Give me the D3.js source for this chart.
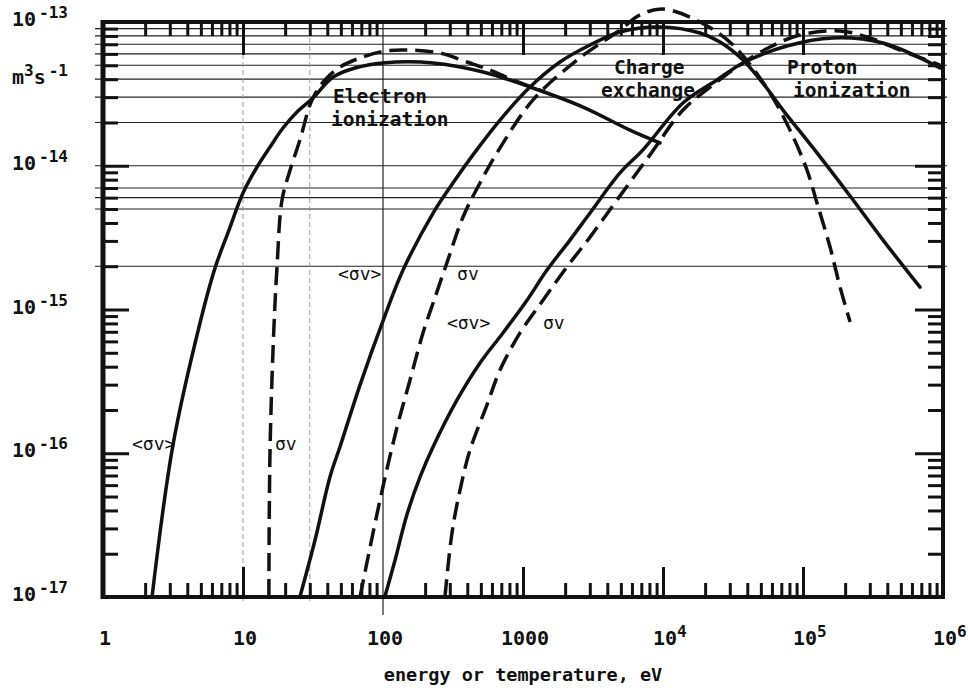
<!DOCTYPE html>
<html>
<head>
<meta charset="utf-8">
<script src="https://cdn.jsdelivr.net/npm/d3@7"></script>
<style>
  body { margin: 0; background: #fff; }
  text { font-family: "DejaVu Sans Mono", monospace; fill: #111; }
  .lbl { font-weight: bold; }
  .curve { fill: none; stroke: #111; stroke-width: 3.5; stroke-linecap: round; stroke-linejoin: round; }
  .curve.dashed { stroke-dasharray: 18 8; stroke-linecap: butt; }
  .grid { stroke: #222; stroke-width: 1.2; }
  .grid.faint { stroke: #999; stroke-width: 1; stroke-dasharray: 5 3; }
  .axis path { display: none; }
  .axis line { stroke: #111; stroke-width: 3; }
  .frame { fill: none; stroke: #111; stroke-width: 4; }
</style>
</head>
<body>
<svg id="chart" width="968" height="688"></svg>
<script>
// energy (eV) and rate (m^3/s)
const eIonAvgE = [2.24, 3.16, 4.93, 6.31, 7.94, 10, 12.6, 15.6, 19.3, 24.7, 31.6, 44, 63.1, 100, 228, 518, 1122, 2683, 5808, 9520];
const eIonAvgV = [1e-17, 1.14e-16, 8.05e-16, 1.94e-15, 3.57e-15, 6.46e-15, 9.8e-15, 1.35e-14, 1.83e-14, 2.4e-14, 2.96e-14, 4.14e-14, 4.79e-14, 5.19e-14, 5.19e-14, 4.49e-14, 3.53e-14, 2.56e-14, 1.77e-14, 1.44e-14];

const eIonSigE = [15.3, 15.6, 16.6, 17.5, 19.0, 21.7, 25.5, 31.1, 38.5, 49.3, 68.5, 103, 156, 255, 398, 581, 849, 1436];
const eIonSigV = [1e-17, 1.05e-16, 7.2e-16, 1.98e-15, 5.78e-15, 9.33e-15, 1.51e-14, 2.87e-14, 3.95e-14, 4.86e-14, 5.62e-14, 6.28e-14, 6.38e-14, 6.08e-14, 5.27e-14, 4.64e-14, 3.95e-14, 3.26e-14];

const cxAvgE = [25.5, 32.7, 41.8, 49.3, 68.5, 100, 139, 228, 316, 439, 685, 1122, 1838, 3010, 4930, 9520, 18380, 25530, 37270, 53520, 71940, 1.259e5, 2.17e5, 3.73e5, 6.85e5];
const cxAvgV = [1e-17, 2.49e-17, 6.84e-17, 1.11e-16, 2.98e-16, 8.32e-16, 1.88e-15, 4.69e-15, 7.59e-15, 1.19e-14, 2.08e-14, 3.53e-14, 5.27e-14, 6.92e-14, 8.52e-14, 9.23e-14, 8.39e-14, 7.26e-14, 5.44e-14, 3.59e-14, 2.44e-14, 1.23e-14, 6.16e-15, 3.04e-15, 1.43e-15];

const cxSigE = [68.5, 95.2, 126, 156, 193, 228, 286, 373, 493, 685, 1179, 2430, 4930, 6850, 10000, 18380, 31620, 56230, 80700, 1.068e5, 1.259e5, 1.56e5, 1.84e5, 2.17e5];
const cxSigV = [1e-17, 4.73e-17, 1.52e-16, 3.23e-16, 6.87e-16, 1.11e-15, 2.11e-15, 4.4e-15, 7.59e-15, 1.33e-14, 2.87e-14, 5.44e-14, 8.79e-14, 1.12e-13, 1.23e-13, 1.0e-13, 6.92e-14, 3.37e-14, 1.77e-14, 9.33e-15, 5.51e-15, 2.72e-15, 1.43e-15, 8.19e-16];

const pIonAvgE = [103, 122, 148, 184, 228, 338, 493, 719, 1068, 1483, 2166, 3010, 4930, 7190, 13890, 24300, 37270, 76850, 1.64e5, 3.73e5, 9.52e5];
const pIonAvgV = [1e-17, 1.81e-17, 3.72e-17, 6.84e-17, 1.11e-16, 2.35e-16, 4.25e-16, 6.87e-16, 1.16e-15, 1.88e-15, 3.04e-15, 4.69e-15, 8.91e-15, 1.29e-14, 2.73e-14, 3.95e-14, 5.19e-14, 6.81e-14, 7.74e-14, 7.14e-14, 4.79e-14];

const pIonSigE = [277, 311, 355, 418, 553, 685, 952, 1389, 2062, 3010, 4693, 8070, 13890, 22750, 35480, 58080, 95200, 1.84e5, 3.01e5, 4.93e5, 9.52e5];
const pIonSigV = [1e-17, 2.79e-17, 5.55e-17, 1.05e-16, 2.17e-16, 3.79e-16, 6.87e-16, 1.16e-15, 1.98e-15, 3.19e-15, 5.78e-15, 1.19e-14, 2.44e-14, 3.65e-14, 5.02e-14, 6.7e-14, 8.12e-14, 8.66e-14, 7.74e-14, 6.38e-14, 5.02e-14];

const xDecades = [1, 10, 100, 1000, 1e4, 1e5, 1e6];
const xTickLabels = [["1", ""], ["10", ""], ["100", ""], ["1000", ""], ["10", "4"], ["10", "5"], ["10", "6"]];
const yDecades = [1e-17, 1e-16, 1e-15, 1e-14, 1e-13];
const yTickLabels = [["10", "-17"], ["10", "-16"], ["10", "-15"], ["10", "-14"], ["10", "-13"]];

// ruled lines of the graph paper
const gridRates = [2e-15, 5e-15, 6e-15, 7e-15, 1e-14, 2e-14, 3e-14, 4e-14, 5e-14, 6e-14, 7e-14, 8e-14, 9e-14];
const gridEnergiesFaint = [10, 30];
const gridEnergySolid = 100;

const svg = d3.select("#chart"),
  plotL = 103, plotR = 943, plotT = 22, plotB = 597;

const x = d3.scaleLog().domain([1, 1e6]).range([plotL, plotR]);
const y = d3.scaleLog().domain([1e-17, 1e-13]).range([plotB, plotT]);

const isDecade = v => Math.abs(Math.log10(v) - Math.round(Math.log10(v))) < 1e-6;
const xMinor = x.ticks().filter(v => !isDecade(v));
const yMinor = y.ticks().filter(v => !isDecade(v));
const xMajorInner = [10, 1000, 1e4, 1e5];
const yMajorInner = [1e-16, 1e-15, 1e-14];

// grid
svg.append("g").selectAll("line")
  .data(gridRates)
  .enter().append("line")
    .attr("class", "grid")
    .attr("x1", plotL - 8).attr("x2", plotR + 4)
    .attr("y1", d => y(d)).attr("y2", d => y(d));

svg.append("g").selectAll("line")
  .data(gridEnergiesFaint)
  .enter().append("line")
    .attr("class", "grid faint")
    .attr("x1", d => x(d)).attr("x2", d => x(d))
    .attr("y1", plotT).attr("y2", plotB + 4);

svg.append("line")
  .attr("class", "grid")
  .attr("x1", x(gridEnergySolid)).attr("x2", x(gridEnergySolid))
  .attr("y1", plotT).attr("y2", plotB + 18);

// ticks, all pointing into the plot
function ticks(axis, values, size, tx, ty) {
  svg.append("g")
    .attr("class", "axis")
    .attr("transform", `translate(${tx},${ty})`)
    .call(axis.tickValues(values).tickSize(-size).tickFormat(""));
}
ticks(d3.axisBottom(x), xMinor, 14, 0, plotB);
ticks(d3.axisBottom(x), xMajorInner, 30, 0, plotB);
ticks(d3.axisTop(x), xMinor, 14, 0, plotT);
ticks(d3.axisTop(x), xMajorInner, 33, 0, plotT);
ticks(d3.axisLeft(y), yMinor, 15, plotL, 0);
ticks(d3.axisLeft(y), yMajorInner, 26, plotL, 0);
ticks(d3.axisRight(y), yMinor, 15, plotR, 0);
ticks(d3.axisRight(y), yMajorInner, 28, plotR, 0);

svg.append("rect")
  .attr("class", "frame")
  .attr("x", plotL).attr("y", plotT)
  .attr("width", plotR - plotL).attr("height", plotB - plotT);
svg.append("line")
  .attr("x1", plotL).attr("x2", plotL).attr("y1", plotT - 2).attr("y2", plotB + 2)
  .attr("stroke", "#111").attr("stroke-width", 5);

// tick labels
const fs = 20, charW = 0.602 * fs;
const xl = svg.append("g").attr("class", "lbl");
xDecades.forEach((d, i) => {
  const [base, sup] = xTickLabels[i];
  const t = xl.append("text")
    .attr("x", x(d) - base.length * charW / 2 + 2)
    .attr("y", 645)
    .style("font-size", fs + "px");
  t.append("tspan").text(base);
  if (sup) t.append("tspan").attr("dy", -8).style("font-size", "16px").text(sup);
});

const yl = svg.append("g").attr("class", "lbl");
yDecades.forEach((d, i) => {
  const [base, sup] = yTickLabels[i];
  const t = yl.append("text")
    .attr("x", 12)
    .attr("y", y(d) + 4)
    .style("font-size", fs + "px");
  t.append("tspan").text(base);
  t.append("tspan").attr("dy", -8).attr("dx", 3).style("font-size", "16px").text(sup);
});

const unit = svg.append("text").attr("class", "lbl").attr("x", 12).attr("y", 84).style("font-size", fs + "px");
unit.append("tspan").text("m");
unit.append("tspan").attr("dy", -8).style("font-size", "16px").text("3");
unit.append("tspan").attr("dy", 8).text("s");
unit.append("tspan").attr("dy", -8).attr("dx", 3).style("font-size", "16px").text("-1");

svg.append("text")
  .attr("class", "lbl")
  .attr("x", (plotL + plotR) / 2)
  .attr("y", 681)
  .attr("text-anchor", "middle")
  .style("font-size", "18.5px")
  .text("energy or temperature, eV");

// curves
const line = d3.line()
  .x(d => x(d[0]))
  .y(d => y(d[1]))
  .curve(d3.curveCatmullRom.alpha(0.5));

const series = [
  {E: eIonAvgE, V: eIonAvgV, dashed: false},
  {E: eIonSigE, V: eIonSigV, dashed: true},
  {E: cxAvgE, V: cxAvgV, dashed: false},
  {E: cxSigE, V: cxSigV, dashed: true},
  {E: pIonAvgE, V: pIonAvgV, dashed: false},
  {E: pIonSigE, V: pIonSigV, dashed: true}
];

svg.append("g").selectAll("path")
  .data(series)
  .enter().append("path")
    .attr("class", d => d.dashed ? "curve dashed" : "curve")
    .attr("d", d => line(d3.zip(d.E, d.V)));

// annotations, anchored in data coordinates
const notes = [
  ["Electron", 44, 2.73e-14, true],
  ["ionization", 42.5, 1.89e-14, true],
  ["Charge", 4467, 4.35e-14, true],
  ["exchange", 3606, 3.01e-14, true],
  ["Proton", 76900, 4.35e-14, true],
  ["ionization", 84900, 3.01e-14, true],
  ["<σv>", 1.61, 1.05e-16, false],
  ["σv", 16.9, 1.05e-16, false],
  ["<σv>", 47.7, 1.6e-15, false],
  ["σv", 338, 1.6e-15, false],
  ["<σv>", 286, 7.31e-16, false],
  ["σv", 1389, 7.31e-16, false]
];

svg.append("g").selectAll("text")
  .data(notes)
  .enter().append("text")
    .attr("class", d => d[3] ? "lbl" : null)
    .attr("x", d => x(d[1]))
    .attr("y", d => y(d[2]))
    .style("font-size", d => d[3] ? "19.5px" : "18px")
    .text(d => d[0]);
</script>
</body>
</html>
